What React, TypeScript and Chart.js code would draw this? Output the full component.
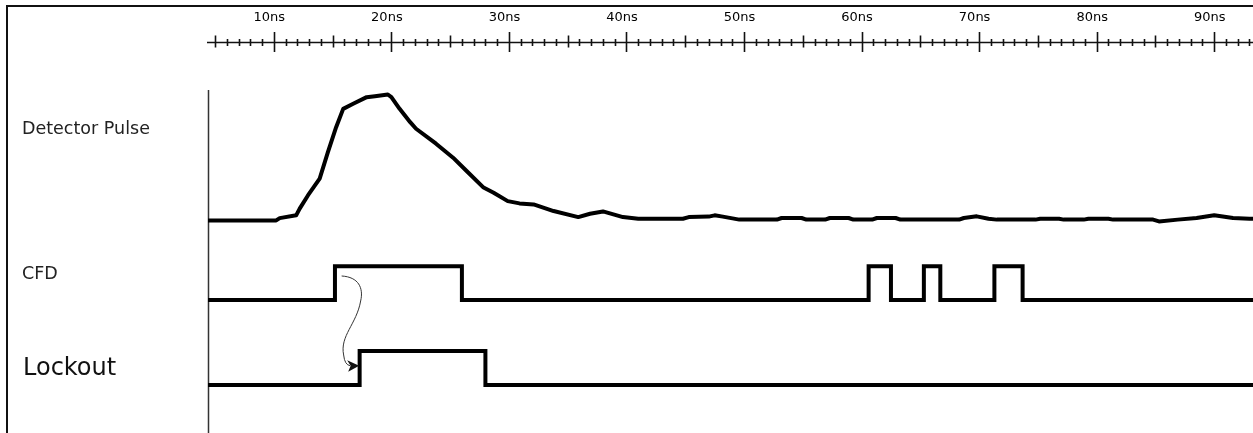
import { useEffect, useRef } from 'react';
import { Chart, registerables } from 'chart.js';

Chart.register(...registerables);

// Visible time window of the timing diagram (ns)
const X_MIN = 4.4;
const X_MAX = 93.3;
// Labelled major divisions of the time ruler (ns)
const RULER_LABELS = [10, 20, 30, 40, 50, 60, 70, 80, 90];

// Detector pulse: sample times (ns) and amplitude (mV)
const PULSE_T = [
  0, 10.2, 10.5, 11.9, 12.2, 12.9, 13.9, 14.6, 15.3, 15.9,
  16.75, 17.9, 18.6, 19.7, 20.0, 20.7, 21.6, 22.1, 23.8, 25.25,
  26.4, 27.8, 28.7, 29.9, 30.9, 32.1, 33.8, 35.9, 36.9, 38.0,
  39.7, 41.0, 44.8, 45.3, 47.0, 47.5, 48.2, 49.6, 52.8, 53.2,
  54.9, 55.3, 56.9, 57.3, 58.9, 59.3, 60.9, 61.3, 62.9, 63.3,
  68.3, 68.7, 69.8, 70.8, 71.5, 74.8, 75.2, 76.8, 77.2, 78.9,
  79.3, 81.0, 81.4, 84.8, 85.3, 86.9, 88.5, 90.0, 91.6, 93.0, 100,
];
const PULSE_MV = [
  0, 0, 1.8, 4.0, 9.3, 19.8, 33.1, 54.2, 74.0, 88.6,
  92.6, 97.9, 98.7, 100, 97.9, 88.6, 78.0, 72.8, 60.9, 49.8,
  39.2, 26.4, 22.0, 15.3, 13.5, 12.7, 7.4, 2.6, 5.3, 7.1,
  2.6, 1.3, 1.3, 2.6, 3.0, 4.0, 3.0, 0.6, 0.6, 1.9,
  1.9, 0.6, 0.6, 1.9, 1.9, 0.6, 0.6, 1.9, 1.9, 0.6,
  0.6, 1.9, 3.2, 1.3, 0.6, 0.6, 1.3, 1.3, 0.6, 0.6,
  1.3, 1.3, 0.6, 0.6, -0.8, 0.6, 1.9, 4.0, 1.9, 1.3, 1.3,
];

// CFD logic output: transition times (ns) and the level entered at each
const CFD_T = [0, 15.2, 26.0, 60.6, 62.5, 65.3, 66.7, 71.3, 73.7, 100];
const CFD_LEVEL = [0, 1, 0, 1, 0, 1, 0, 1, 0, 0];

// Lockout logic output
const LOCK_T = [0, 17.3, 28.0, 100];
const LOCK_LEVEL = [0, 1, 0, 0];

// Lane names shown left of the traces
const LANE_NAMES = ['Detector Pulse', 'CFD', 'Lockout'];

// Causality arrow: CFD rising edge triggers the Lockout
const ARROW_FROM = { t: 15.77, level: 0.71 };
const ARROW_TO = { t: 17.26, level: 0.57 };

const toPoints = (ts: number[], vs: number[]) => ts.map((t, i) => ({ x: t, y: vs[i] }));

const LANE_AXES = ['yPulse', 'yCfd', 'yLock'];
const LANE_LABEL_STYLE = [
  { level: 69, font: '17.5px "DejaVu Sans"', color: '#222', x: 22 },
  { level: 0.62, font: '17.5px "DejaVu Sans"', color: '#222', x: 22 },
  { level: 0.29, font: '24px "DejaVu Sans"', color: '#111', x: 23 },
];

const timingDecor = {
  id: 'timingDecor',
  beforeDatasetsDraw(chart: any) {
    const { ctx, chartArea, width, height } = chart;
    const x = chart.scales.x;
    ctx.save();

    // outer frame
    ctx.strokeStyle = '#111';
    ctx.lineWidth = 2;
    ctx.beginPath();
    ctx.moveTo(7, height);
    ctx.lineTo(7, 6);
    ctx.lineTo(width, 6);
    ctx.stroke();

    // divider between names and traces
    ctx.strokeStyle = '#333';
    ctx.lineWidth = 1.5;
    ctx.beginPath();
    ctx.moveTo(chartArea.left + 0.5, 90);
    ctx.lineTo(chartArea.left + 0.5, height);
    ctx.stroke();

    // time ruler: 1 ns minor, 5 ns medium, 10 ns major ticks
    const ry = 42.5;
    ctx.strokeStyle = '#111';
    ctx.lineWidth = 1.6;
    ctx.beginPath();
    ctx.moveTo(chartArea.left - 1, ry);
    ctx.lineTo(width, ry);
    for (let t = Math.ceil(x.min); t <= Math.floor(x.max); t++) {
      const px = Math.round(x.getPixelForValue(t)) + 0.5;
      let up = 3.5;
      let down = 3.5;
      if (t % 10 === 0) {
        up = 10.5;
        down = 9.5;
      } else if (t % 5 === 0) {
        up = 7;
        down = 5;
      }
      ctx.moveTo(px, ry - up);
      ctx.lineTo(px, ry + down);
    }
    ctx.stroke();

    // lane names
    ctx.textAlign = 'left';
    ctx.textBaseline = 'alphabetic';
    LANE_NAMES.forEach((name, i) => {
      const st = LANE_LABEL_STYLE[i];
      const y = chart.scales[LANE_AXES[i]].getPixelForValue(st.level);
      ctx.font = st.font;
      ctx.fillStyle = st.color;
      ctx.fillText(name, st.x, y);
    });
    ctx.restore();
  },
  afterDatasetsDraw(chart: any) {
    const { ctx } = chart;
    const x = chart.scales.x;
    const sx = x.getPixelForValue(ARROW_FROM.t);
    const sy = chart.scales.yCfd.getPixelForValue(ARROW_FROM.level);
    const ex = x.getPixelForValue(ARROW_TO.t);
    const ey = chart.scales.yLock.getPixelForValue(ARROW_TO.level);
    ctx.save();
    ctx.strokeStyle = '#333';
    ctx.fillStyle = '#111';
    ctx.lineWidth = 1;
    ctx.beginPath();
    ctx.moveTo(sx, sy);
    ctx.bezierCurveTo(sx + 17, sy + 1, sx + 22, sy + 12, sx + 19, sy + 25);
    ctx.bezierCurveTo(sx + 15, sy + 48, sx - 2, sy + 60, sx + 2, sy + 79);
    ctx.quadraticCurveTo(sx + 3, ey - ((ey - sy) - 89), ex - 9, ey);
    ctx.stroke();
    // arrow head
    ctx.beginPath();
    ctx.moveTo(ex, ey);
    ctx.lineTo(ex - 12, ey - 5.5);
    ctx.lineTo(ex - 8.5, ey);
    ctx.lineTo(ex - 11, ey + 6);
    ctx.closePath();
    ctx.fill();
    ctx.restore();
  },
};

export default function App() {
  const ref = useRef<HTMLCanvasElement>(null);

  useEffect(() => {
    const canvas = ref.current;
    if (!canvas) return;
    const trace = {
      borderColor: '#000',
      borderWidth: 4,
      pointRadius: 0,
      tension: 0,
      fill: false,
      borderJoinStyle: 'miter' as const,
    };
    const chart = new Chart(canvas, {
      type: 'line',
      data: {
        datasets: [
          { ...trace, label: LANE_NAMES[0], data: toPoints(PULSE_T, PULSE_MV), yAxisID: 'yPulse', borderJoinStyle: 'round' as const },
          { ...trace, label: LANE_NAMES[1], data: toPoints(CFD_T, CFD_LEVEL), yAxisID: 'yCfd', stepped: 'before' as const },
          { ...trace, label: LANE_NAMES[2], data: toPoints(LOCK_T, LOCK_LEVEL), yAxisID: 'yLock', stepped: 'before' as const },
        ],
      },
      options: {
        animation: false,
        responsive: false,
        devicePixelRatio: 1,
        events: [],
        layout: { padding: { left: 208, top: 9.4, right: 0, bottom: 0 } },
        plugins: { legend: { display: false }, tooltip: { enabled: false } },
        scales: {
          x: {
            type: 'linear',
            position: 'top',
            min: X_MIN,
            max: X_MAX,
            afterBuildTicks: (scale: any) => {
              scale.ticks = RULER_LABELS.map((v) => ({ value: v }));
            },
            grid: {
              display: true,
              drawOnChartArea: false,
              drawTicks: true,
              tickLength: 39.3,
              color: 'rgba(0,0,0,0)',
            },
            border: { display: false },
            ticks: {
              padding: 0,
              labelOffset: -4.5,
              maxRotation: 0,
              autoSkip: false,
              color: '#000',
              font: { family: '"DejaVu Sans"', size: 13 },
              callback: (v: any) => `${v}ns`,
            },
          },
          yPulse: {
            type: 'linear', position: 'left', display: false,
            stack: 'lanes', stackWeight: 181.4, weight: 3,
            min: -20, max: 124,
          },
          yCfd: {
            type: 'linear', position: 'left', display: false,
            stack: 'lanes', stackWeight: 85, weight: 2,
            min: -0.894, max: 1.606,
          },
          yLock: {
            type: 'linear', position: 'left', display: false,
            stack: 'lanes', stackWeight: 102.6, weight: 1,
            min: -1.41, max: 1.606,
          },
        },
      } as any,
      plugins: [timingDecor],
    });
    return () => chart.destroy();
  }, []);

  return (
    <div style={{ position: 'fixed', left: 0, top: 0, width: 1253, height: 433, background: '#fff' }}>
      <canvas ref={ref} width={1253} height={433} style={{ display: 'block' }} />
    </div>
  );
}
